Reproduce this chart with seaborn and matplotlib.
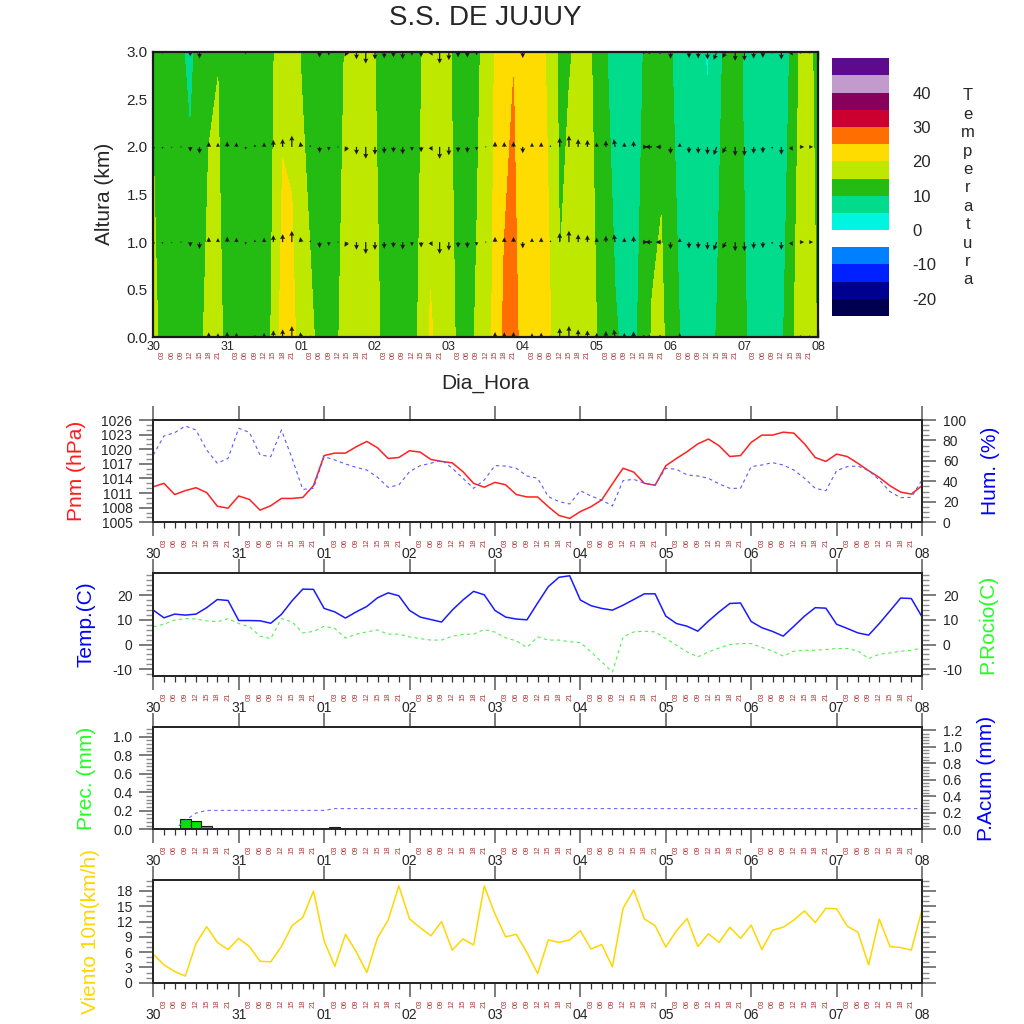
import numpy as np
import matplotlib
matplotlib.use('Agg')
import matplotlib.pyplot as plt
import seaborn as sns
from matplotlib.colors import ListedColormap, BoundaryNorm
from matplotlib.cm import ScalarMappable
from matplotlib.ticker import MultipleLocator

sns.set_theme(style='white')
plt.rcParams['font.family'] = ['Liberation Sans', 'DejaVu Sans']
plt.rcParams['axes.unicode_minus'] = False

# ---------------- data (3-hourly, 30 00h .. 08 00h) ----------------
hours = np.arange(0, 217, 3)
day_labels = ['30', '31', '01', '02', '03', '04', '05', '06', '07', '08']
hour_labels = ['03', '06', '09', '12', '15', '18', '21']

# temperature cross-section (C) at 0 km and 3 km
temp_0km = [15.8, 14.2, 12.3, 12.2, 12.5, 13.6, 17.0, 17.0,
            13.0, 11.0, 10.8, 10.5, 12.5, 16.0, 22.5, 22.0,
            17.0, 15.8, 14.0, 13.5, 14.8, 17.0, 18.5, 18.3,
            16.8, 13.5, 12.0, 11.0, 13.5, 16.0, 20.6, 18.5,
            16.5, 14.3, 13.5, 15.5, 17.5, 21.5, 26.0, 27.0,
            23.0, 22.0, 21.0, 20.1, 15.5, 17.5, 18.0, 16.5,
            15.0, 12.5, 10.4, 9.3, 9.0, 11.5, 15.5, 16.5,
            12.0, 10.0, 8.0, 7.0, 8.5, 10.2, 12.5, 13.0,
            10.5, 8.5, 7.5, 7.5, 8.8, 13.8, 17.0, 17.0,
            14.5]
temp_3km = [14.6, 12.5, 12.0, 10.5, 9.0, 11.5, 14.0, 14.8,
            12.5, 12.0, 11.5, 11.5, 13.0, 14.7, 18.5, 18.0,
            14.8, 13.0, 12.0, 12.5, 14.0, 15.5, 17.0, 16.5,
            15.0, 13.0, 11.5, 11.0, 13.0, 14.8, 17.0, 16.5,
            15.3, 14.0, 13.0, 14.0, 16.5, 20.3, 23.0, 24.8,
            23.0, 21.5, 20.8, 19.0, 13.5, 14.6, 15.8, 16.0,
            13.8, 10.3, 8.0, 7.5, 8.0, 9.9, 12.0, 13.0,
            10.3, 8.5, 7.5, 6.5, 4.5, 7.5, 11.5, 12.0,
            9.3, 7.5, 7.0, 7.5, 8.5, 10.2, 15.5, 16.0,
            13.5]
levels_km = [0.0, 3.0]
vector_levels_km = [0.0, 1.0, 2.0, 3.0]
# direction the wind arrows point to (deg clockwise from north)
vec_dir = [180, 180, 180, 180, 180, 180, 0, 0,
           0, 0, 180, 0, 0, 0, 0, 0,
           350, 0, 180, 180, 180, 210, 180, 180,
           180, 180, 180, 180, 180, 180, 150, 180,
           180, 180, 180, 180, 90, 0, 0, 0,
           180, 0, 0, 0, 0, 0, 0, 0,
           0, 0, 350, 0, 0, 90, 270, 270,
           180, 0, 180, 180, 180, 200, 210, 180,
           180, 180, 180, 180, 180, 150, 90, 90,
           90]

pnm = [1012.3, 1013.0, 1010.7, 1011.5, 1012.1, 1011.1, 1008.3, 1007.9,
       1010.4, 1009.7, 1007.5, 1008.4, 1009.9, 1009.9, 1010.1, 1012.5,
       1018.7, 1019.2, 1019.2, 1020.5, 1021.6, 1020.3, 1018.1, 1018.3,
       1019.7, 1019.4, 1017.9, 1017.5, 1017.2, 1015.4, 1013.0, 1012.2,
       1013.2, 1012.7, 1010.7, 1010.2, 1010.2, 1008.2, 1006.4, 1005.8,
       1007.2, 1008.2, 1009.6, 1012.9, 1016.1, 1015.3, 1013.0, 1012.6,
       1016.6, 1018.1, 1019.5, 1021.1, 1022.1, 1020.7, 1018.5, 1018.7,
       1021.4, 1022.9, 1022.9, 1023.5, 1023.3, 1021.1, 1018.3, 1017.5,
       1019.0, 1018.5, 1017.1, 1015.6, 1014.2, 1012.5, 1011.2, 1010.8,
       1012.5]
hum = [65.8, 84.4, 87.6, 94.1, 90.2, 70.7, 57.7, 62.5,
       91.9, 87.9, 65.8, 64.2, 90.2, 62.5, 32.2, 33.2,
       64.2, 60.9, 57.0, 53.7, 51.1, 44.0, 34.2, 36.5,
       49.5, 55.4, 57.7, 60.9, 52.8, 43.0, 33.2, 41.4,
       55.4, 55.0, 52.8, 45.3, 43.0, 25.1, 20.2, 17.9,
       30.9, 25.7, 21.8, 16.0, 40.7, 42.0, 38.1, 36.5,
       52.8, 51.8, 46.3, 45.3, 43.0, 37.5, 33.2, 33.2,
       54.4, 56.0, 58.3, 56.0, 51.1, 43.0, 33.2, 30.9,
       50.5, 54.4, 55.0, 50.5, 41.4, 30.0, 24.1, 24.4,
       41.4]
temp_2m = [13.9, 10.8, 12.3, 11.9, 12.3, 14.9, 18.2, 17.8,
           9.7, 9.7, 9.6, 8.6, 12.2, 17.7, 22.4, 22.3,
           14.6, 13.2, 10.7, 13.2, 15.4, 18.9, 20.9, 19.7,
           13.8, 11.1, 10.1, 9.1, 13.9, 18.0, 21.5, 20.1,
           13.8, 11.1, 10.3, 10.0, 16.8, 23.4, 27.2, 27.8,
           18.0, 15.7, 14.6, 13.9, 15.9, 18.2, 20.5, 20.5,
           11.5, 8.5, 7.4, 5.4, 9.5, 13.2, 16.6, 16.8,
           9.3, 6.8, 5.3, 3.4, 7.4, 11.5, 14.9, 14.7,
           8.2, 6.5, 4.7, 3.8, 8.5, 13.6, 18.8, 18.6,
           11.2]
dew_point = [7.2, 8.2, 9.9, 10.5, 10.3, 9.6, 9.2, 10.5,
             8.5, 7.2, 3.4, 2.4, 10.5, 9.2, 4.7, 5.3,
             7.4, 6.5, 2.6, 4.2, 5.1, 5.9, 4.2, 4.2,
             3.1, 2.4, 1.8, 1.8, 3.4, 4.1, 4.2, 6.1,
             5.0, 2.7, 1.5, -1.2, 3.1, 1.8, 1.8, 1.1,
             0.8, -3.0, -7.0, -11.1, 3.1, 5.1, 5.4, 5.1,
             2.4, -0.3, -3.0, -5.0, -3.0, -1.4, 0.0, 0.4,
             0.4, -1.2, -2.6, -4.7, -2.7, -2.3, -2.3, -2.0,
             -1.6, -1.6, -2.6, -5.7, -3.9, -3.4, -2.7, -2.3,
             -1.4]
prec_hours = [9, 12, 15, 51]
prec_mm = [0.109, 0.087, 0.033, 0.022]
wind_10m = [5.6, 3.5, 2.2, 1.3, 7.7, 11.0, 7.9, 6.5,
            8.7, 7.1, 4.2, 4.1, 7.1, 11.2, 12.8, 18.0,
            8.2, 3.2, 9.5, 6.1, 2.0, 8.8, 12.3, 19.0,
            12.5, 10.8, 9.2, 12.0, 6.4, 8.6, 7.4, 19.0,
            13.5, 9.0, 9.5, 5.9, 1.8, 8.4, 7.9, 8.4,
            10.2, 6.6, 7.5, 3.1, 14.6, 18.2, 12.5, 11.2,
            7.0, 10.2, 12.6, 7.1, 9.6, 7.9, 10.9, 8.7,
            11.3, 6.5, 10.3, 10.9, 12.3, 14.1, 11.8, 14.6,
            14.5, 11.1, 9.9, 3.5, 12.5, 7.1, 6.9, 6.4,
            14.3]

temp_levels = list(range(-25, 51, 5))
temp_colors = ['#000050', '#000090', '#0020FF', '#0080FF', '#FFFFFF',
               '#00F5E0', '#00DC8C', '#24BC12', '#BEE800', '#FFDC00',
               '#FF6E00', '#CC0030', '#86005C', '#C29ACC', '#5E0A8C']

HOUR_COLOR = '#B03A3A'
day_hours = np.arange(0, 217, 24)
minor_hours = [h for h in hours if h % 24 != 0]
minor_labels = [hour_labels[(h % 24) // 3 - 1] for h in minor_hours]

# ---------------- figure ----------------
fig = plt.figure(figsize=(10.24, 10.24), dpi=100)
W = H = 1024.0


def rect(x0, y0, x1, y1):
    return [x0 / W, 1 - y1 / H, (x1 - x0) / W, (y1 - y0) / H]


def style_time_axis(ax, inward):
    ax.set_xlim(0, 216)
    ax.set_xticks(day_hours)
    ax.set_xticks(minor_hours, minor=True)
    ax.set_xticklabels(minor_labels, minor=True, rotation=90,
                       fontsize=5.5, color=HOUR_COLOR)
    if inward:
        ax.set_xticklabels(day_labels, fontsize=9)
        ax.tick_params(axis='x', which='major', direction='in', length=6,
                       width=1.0, color='k', pad=2.5, top=True, bottom=True)
        ax.tick_params(axis='x', which='minor', direction='in', length=3,
                       width=0.8, color='k', pad=9.5, top=False, bottom=True)
    else:
        ax.set_xticklabels(day_labels, fontsize=10)
        ax.tick_params(axis='x', which='major', direction='out', length=10,
                       width=1.2, color='0.4', pad=8, top=True, bottom=True)
        ax.tick_params(axis='x', which='minor', direction='out', length=4.5,
                       width=0.9, color='0.2', pad=7.5, top=False, bottom=True)
    for s in ax.spines.values():
        s.set_color('k')
        s.set_linewidth(1.3)


def style_y(ax, major, minor, side):
    ax.yaxis.set_major_locator(MultipleLocator(major))
    ax.yaxis.set_minor_locator(MultipleLocator(minor))
    ax.tick_params(axis='y', which='major', direction='out', length=10,
                   width=1.2, color='0.4', labelsize=10, pad=5)
    ax.tick_params(axis='y', which='minor', direction='out', length=5,
                   width=1.0, color='0.55')
    if side == 'right':
        ax.tick_params(axis='y', which='both', left=False, right=True,
                       labelleft=False, labelright=True)
    else:
        ax.tick_params(axis='y', which='both', left=True, right=False)


# ---- top panel: temperature cross-section with wind vectors ----
ax0 = fig.add_axes(rect(153.3, 51.7, 818.3, 337.3))
Z = np.array([temp_0km, temp_3km])
ax0.contourf(hours, levels_km, Z, levels=temp_levels, colors=temp_colors)
spd = np.array(wind_10m)
ang = np.deg2rad(vec_dir)
U = np.tile(spd * np.sin(ang), (len(vector_levels_km), 1))
V = np.tile(spd * np.cos(ang), (len(vector_levels_km), 1))
XX, YY = np.meshgrid(hours, vector_levels_km)
ax0.quiver(XX, YY, U, V, angles='uv', scale_units='inches', scale=160,
           width=0.0019, headwidth=4, headlength=4, headaxislength=3.5,
           color='k', zorder=3)
ax0.set_ylim(0, 3)
style_time_axis(ax0, inward=True)
ax0.yaxis.set_major_locator(MultipleLocator(0.5))
ax0.yaxis.set_minor_locator(MultipleLocator(0.1))
ax0.set_yticklabels([f'{v:.1f}' for v in ax0.get_yticks()])
ax0.tick_params(axis='y', which='major', direction='in', length=16, width=1.2,
                color='k', labelsize=11, pad=4, left=True, right=True)
ax0.tick_params(axis='y', which='minor', direction='in', length=8, width=0.9,
                color='k', left=True, right=True)
for s in ax0.spines.values():
    s.set_linewidth(1.6)
fig.text(104 / W, 1 - 194 / H, 'Altura (km)', rotation=90, fontsize=15,
         ha='center', va='center')
fig.text(485.5 / W, 1 - 383 / H, 'Dia_Hora', fontsize=15, ha='center', va='center')

# colorbar
cax = fig.add_axes(rect(832, 58.3, 889, 316))
sm = ScalarMappable(norm=BoundaryNorm(temp_levels, len(temp_colors)),
                    cmap=ListedColormap(temp_colors))
cb = fig.colorbar(sm, cax=cax, ticks=list(range(-20, 41, 10)))
cb.outline.set_visible(False)
cax.minorticks_off()
cax.tick_params(which='both', length=0, labelsize=12, pad=17)
letters = 'Temperatura'
for i, ch in enumerate(letters):
    fig.text(968 / W, 1 - (96 + i * 18.4) / H, ch, fontsize=12,
             ha='center', va='center')

fig.text(485.5 / W, 1 - 18 / H, 'S.S. DE JUJUY', fontsize=20,
         ha='center', va='center')

# ---- pressure / humidity ----
ax1 = fig.add_axes(rect(153.3, 420, 922, 522.3))
sns.lineplot(x=hours, y=pnm, ax=ax1, color='#FF2020', lw=1.1)
ax1.set_ylim(1005, 1026)
style_y(ax1, 3, 1, 'left')
style_time_axis(ax1, inward=False)
ax1b = ax1.twinx()
sns.lineplot(x=hours, y=hum, ax=ax1b, color='#5A5AFF', lw=0.8,
             linestyle=(0, (3, 3)))
ax1b.set_ylim(0, 100)
style_y(ax1b, 20, 5, 'right')
fig.text(76 / W, 1 - 471 / H, 'Pnm (hPa)', rotation=90, fontsize=15,
         color='#FF1A1A', ha='center', va='center')
fig.text(990 / W, 1 - 471 / H, 'Hum. (%)', rotation=90, fontsize=15,
         color='#0000FF', ha='center', va='center')

# ---- temperature / dew point ----
ax2 = fig.add_axes(rect(153.3, 573.3, 922, 675.7))
sns.lineplot(x=hours, y=temp_2m, ax=ax2, color='#1A1AFF', lw=1.1)
ax2.set_ylim(-12.6, 28.8)
style_y(ax2, 10, 2, 'left')
style_time_axis(ax2, inward=False)
ax2b = ax2.twinx()
sns.lineplot(x=hours, y=dew_point, ax=ax2b, color='#55EE55', lw=0.8,
             linestyle=(0, (3, 3)))
ax2b.set_ylim(-12.6, 28.8)
style_y(ax2b, 10, 2, 'right')
fig.text(86 / W, 1 - 624.5 / H, 'Temp.(C)', rotation=90, fontsize=15,
         color='#0000FF', ha='center', va='center')
fig.text(988 / W, 1 - 624.5 / H, 'P.Rocio(C)', rotation=90, fontsize=15,
         color='#22FF22', ha='center', va='center')

# ---- precipitation ----
ax3 = fig.add_axes(rect(153.3, 727.3, 922, 829.3))
ax3.bar(prec_hours, prec_mm, width=3, color='#00E600', edgecolor='k', lw=0.8)
ax3.set_ylim(0, 1.1)
style_y(ax3, 0.2, 0.04, 'left')
ax3.set_yticks(np.arange(0, 1.01, 0.2))
ax3.set_yticklabels([f'{v:.1f}' for v in np.arange(0, 1.01, 0.2)])
style_time_axis(ax3, inward=False)
prec_series = np.zeros(len(hours))
for h, p in zip(prec_hours, prec_mm):
    prec_series[list(hours).index(h)] = p
ax3b = ax3.twinx()
sns.lineplot(x=hours, y=np.cumsum(prec_series), ax=ax3b, color='#6A6AFF',
             lw=0.8, linestyle=(0, (3, 3)))
ax3b.set_ylim(0, 1.236)
style_y(ax3b, 0.2, 0.04, 'right')
ax3b.set_yticks(np.arange(0, 1.21, 0.2))
ax3b.set_yticklabels([f'{v:.1f}' for v in np.arange(0, 1.21, 0.2)])
fig.text(86 / W, 1 - 778 / H, 'Prec. (mm)', rotation=90, fontsize=15,
         color='#22FF22', ha='center', va='center')
fig.text(986 / W, 1 - 778 / H, 'P.Acum (mm)', rotation=90, fontsize=15,
         color='#0000FF', ha='center', va='center')

# ---- wind 10 m ----
ax4 = fig.add_axes(rect(153.3, 880.3, 922, 982.7))
sns.lineplot(x=hours, y=wind_10m, ax=ax4, color='#FFD700', lw=1.1)
ax4.set_ylim(0, 20.1)
style_y(ax4, 3, 1, 'left')
style_time_axis(ax4, inward=False)
ax4b = ax4.twinx()
ax4b.set_ylim(0, 20.1)
style_y(ax4b, 3, 1, 'right')
ax4b.tick_params(axis='y', labelright=False)
fig.text(90 / W, 1 - 931.5 / H, 'Viento 10m(km/h)', rotation=90, fontsize=15,
         color='#FFD700', ha='center', va='center')

for a in (ax1, ax1b, ax2, ax2b, ax3, ax3b, ax4, ax4b):
    a.set_xlabel('')
    a.set_ylabel('')

fig.savefig('out.png', dpi=100)
